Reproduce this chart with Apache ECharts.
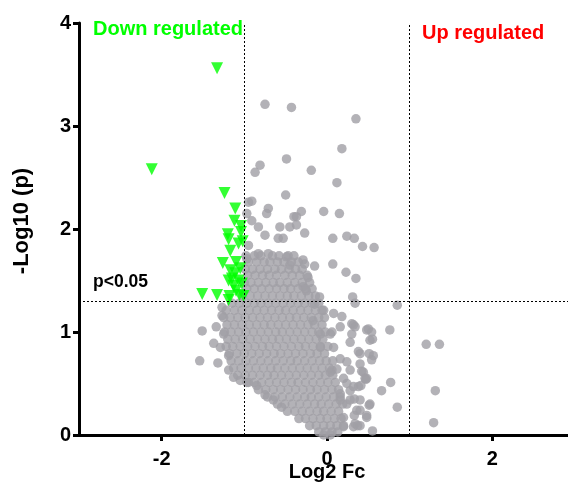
<!DOCTYPE html>
<html>
<head>
<meta charset="utf-8">
<script src="https://cdn.jsdelivr.net/npm/echarts@6/dist/echarts.min.js"></script>
<style>
  html, body { margin: 0; padding: 0; background: #fff; }
  #chart { width: 568px; height: 484px; }
</style>
</head>
<body>
<div id="chart"></div>
<script>
// tick labels
const xTicks = [-2, 0, 2]
const yTicks = [0, 1, 2, 3, 4]

// thresholds
const fcCut = [-1, 1]
const pCut = 1.301

// significant, down regulated (log2 fc, -log10 p)
const downPoints = [
  [-1.33, 3.56], [-2.12, 2.58], [-1.24, 2.35], [-1.11, 2.20], [-1.12, 2.08],
  [-1.04, 2.03], [-1.20, 1.95], [-1.04, 1.97], [-1.19, 1.90], [-1.07, 1.86],
  [-1.02, 1.88], [-1.17, 1.79], [-1.26, 1.67], [-1.10, 1.68], [-1.17, 1.60],
  [-1.05, 1.62], [-1.11, 1.57], [-1.15, 1.52], [-1.07, 1.50], [-1.19, 1.50],
  [-1.13, 1.45], [-1.03, 1.47], [-1.10, 1.40], [-1.51, 1.37], [-1.33, 1.36],
  [-1.18, 1.35], [-1.06, 1.36], [-1.01, 1.35], [-1.19, 1.31]
]

// not significant, scattered ones
const graySparse = [
  [-0.75, 3.21], [-0.43, 3.18], [0.35, 3.07], [0.18, 2.78], [-0.49, 2.68],
  [-0.81, 2.62], [-0.87, 2.55], [-0.19, 2.57], [0.12, 2.45], [-0.50, 2.33],
  [-0.91, 2.27], [-0.71, 2.20], [-0.31, 2.17], [-0.04, 2.17], [-0.40, 2.12],
  [0.15, 2.15], [-0.37, 2.04], [-0.27, 1.96], [0.07, 1.91], [0.24, 1.93],
  [0.33, 1.91], [0.43, 1.83], [0.57, 1.82], [-0.29, 1.70], [-0.27, 1.66],
  [-0.15, 1.64], [0.07, 1.66], [0.23, 1.58], [0.35, 1.52], [-0.23, 1.53],
  [-0.29, 1.44], [-0.25, 1.40], [-0.09, 1.34], [0.31, 1.34], [0.34, 1.28],
  [0.85, 1.26], [-0.15, 1.27],
  [0.76, 1.02], [1.20, 0.88], [1.36, 0.88], [0.52, 0.92], [0.56, 0.77],
  [0.54, 0.73], [0.77, 0.51], [0.66, 0.43], [1.31, 0.43], [0.85, 0.27],
  [1.29, 0.12], [0.55, 0.04],
  [0.42, 0.62], [0.46, 0.55], [0.38, 0.47], [0.52, 0.30], [0.32, 0.08],
  [0.40, 0.09], [0.30, 0.98], [0.32, 1.07], [0.06, 1.00], [0.16, 1.05],
  [0.08, 0.85], [0.28, 0.90], [0.38, 0.81], [0.16, 0.74], [0.24, 0.71],
  [0.06, 0.63], [0.20, 0.55], [0.28, 0.43], [0.16, 0.34], [0.40, 0.24],
  [0.08, 1.18], [0.18, 1.15], [-0.04, 1.21], [-0.08, 0.98], [-0.08, 0.85],
  [0.48, 1.02], [0.54, 1.00], [0.55, 0.93], [0.51, 0.79], [0.47, 0.54],
  [0.41, 0.48], [0.33, 0.35], [0.51, 0.29], [0.33, 0.19], [0.37, 0.09],
  [0.30, 1.08], [0.40, 0.69], [0.28, 0.63], [0.32, 0.47], [0.24, 0.30],
  [0.34, 0.11], [0.48, 0.19], [0.34, 1.05], [0.50, 1.03], [-0.17, 1.11],
  [0.04, 0.98], [0.40, 0.79], [0.12, 0.64], [0.04, 0.61], [0.44, 0.61],
  [0.48, 0.55], [0.24, 0.50], [0.16, 0.40], [0.28, 0.34], [0.40, 0.34],
  [0.36, 0.24], [0.48, 0.17], [0.20, 0.17], [0.20, 0.08],
  [-1.51, 1.01], [-1.34, 1.05], [-1.37, 0.89], [-1.54, 0.72], [-1.32, 0.70],
  [-1.29, 0.85], [-1.25, 0.98], [-1.27, 1.16], [-1.27, 1.24], [-1.19, 0.77],
  [-1.19, 0.63], [-1.13, 0.56], [-1.05, 0.53], [-0.95, 0.51], [-0.85, 0.48],
  [-0.75, 0.39], [-0.65, 0.34], [-0.55, 0.27],
  [-0.95, 2.26], [-0.97, 2.15], [-0.91, 2.08], [-0.73, 2.15], [-0.83, 2.02],
  [-0.75, 1.94], [-0.57, 2.02], [-0.45, 2.02], [-0.59, 1.91], [-0.53, 1.91],
  [-0.37, 2.12], [-0.95, 1.84], [-0.97, 1.71], [-0.83, 1.76], [-0.71, 1.76],
  [-0.49, 1.73], [-0.45, 1.65]
]

// not significant, the dense cloud: [-log10 p, [log2 fc ...]]
const grayDense = [
  [1.74, [-0.98, -0.88, -0.80, -0.66, -0.58, -0.47, -0.40]],
  [1.68, [-0.95, -0.85, -0.76, -0.69, -0.60, -0.52, -0.43, -0.35]],
  [1.61, [-0.99, -0.90, -0.81, -0.72, -0.63, -0.55, -0.46, -0.38, -0.30]],
  [1.55, [-0.96, -0.87, -0.78, -0.70, -0.61, -0.51, -0.42, -0.33, -0.24]],
  [1.48, [-1.00, -0.92, -0.83, -0.74, -0.65, -0.57, -0.48, -0.39, -0.30, -0.21]],
  [1.42, [-0.97, -0.88, -0.79, -0.70, -0.61, -0.52, -0.44, -0.35, -0.26, -0.18]],
  [1.35, [-1.02, -0.93, -0.84, -0.75, -0.66, -0.57, -0.48, -0.40, -0.31, -0.22, -0.14]],
  [1.28, [-1.15, -1.06, -0.97, -0.88, -0.80, -0.71, -0.62, -0.53, -0.44, -0.35, -0.27, -0.18, -0.10]],
  [1.21, [-1.22, -1.12, -1.03, -0.94, -0.85, -0.76, -0.67, -0.58, -0.50, -0.41, -0.32, -0.23, -0.14, -0.06]],
  [1.14, [-1.25, -1.17, -1.08, -0.99, -0.90, -0.81, -0.72, -0.63, -0.54, -0.45, -0.37, -0.28, -0.19, -0.10, -0.03]],
  [1.07, [-1.21, -1.12, -1.03, -0.94, -0.85, -0.76, -0.68, -0.59, -0.50, -0.41, -0.32, -0.23, -0.15, -0.06]],
  [1.00, [-1.24, -1.16, -1.07, -0.98, -0.89, -0.80, -0.71, -0.62, -0.54, -0.45, -0.36, -0.27, -0.18, -0.10, -0.02]],
  [0.93, [-1.20, -1.11, -1.02, -0.93, -0.84, -0.75, -0.66, -0.58, -0.49, -0.40, -0.31, -0.22, -0.13, -0.05]],
  [0.86, [-1.22, -1.14, -1.05, -0.96, -0.87, -0.78, -0.70, -0.61, -0.52, -0.43, -0.34, -0.26, -0.17, -0.08, 0.01]],
  [0.79, [-1.18, -1.09, -1.00, -0.91, -0.82, -0.73, -0.64, -0.56, -0.47, -0.38, -0.29, -0.20, -0.12, -0.03]],
  [0.72, [-1.16, -1.07, -0.98, -0.89, -0.80, -0.71, -0.62, -0.53, -0.44, -0.36, -0.27, -0.18, -0.09, -0.01, 0.07]],
  [0.65, [-1.13, -1.04, -0.95, -0.86, -0.77, -0.68, -0.60, -0.51, -0.42, -0.33, -0.24, -0.15, -0.06, 0.03]],
  [0.58, [-1.08, -0.99, -0.90, -0.81, -0.72, -0.64, -0.55, -0.46, -0.37, -0.28, -0.19, -0.10, -0.02, 0.07]],
  [0.51, [-0.97, -0.88, -0.79, -0.70, -0.61, -0.52, -0.43, -0.35, -0.26, -0.17, -0.08, 0.01, 0.10]],
  [0.44, [-0.83, -0.74, -0.65, -0.56, -0.47, -0.38, -0.29, -0.20, -0.12, -0.03, 0.06, 0.14]],
  [0.37, [-0.72, -0.63, -0.54, -0.45, -0.36, -0.27, -0.19, -0.10, -0.01, 0.08, 0.16]],
  [0.30, [-0.60, -0.51, -0.42, -0.33, -0.24, -0.15, -0.07, 0.02, 0.11, 0.19]],
  [0.23, [-0.48, -0.39, -0.30, -0.21, -0.12, -0.04, 0.05, 0.14]],
  [0.16, [-0.34, -0.26, -0.17, -0.08, 0.00, 0.09, 0.17]],
  [0.09, [-0.21, -0.13, -0.04, 0.04, 0.12, 0.20]],
  [0.03, [-0.10, -0.02, 0.06, 0.13]],
  [0.00, [-0.04, 0.04]]
]

const grayPoints = graySparse.concat(
  grayDense.flatMap(([y, xs]) => xs.map(x => [x, y]))
)

const font = 'Liberation Sans, Arial, Helvetica, sans-serif'
const chart = echarts.init(document.getElementById('chart'))

chart.setOption({
  animation: false,
  backgroundColor: '#fff',
  grid: { left: 79, right: -7, top: 23, bottom: 49, outerBoundsMode: 'none' },
  xAxis: {
    type: 'value',
    min: -3,
    max: 3,
    name: 'Log2 Fc',
    nameLocation: 'middle',
    nameGap: 27,
    nameMoveOverlap: false,
    nameTextStyle: { fontFamily: font, fontWeight: 'bold', fontSize: 20, color: '#000' },
    axisLine: { onZero: false, lineStyle: { color: '#000', width: 3 } },
    axisTick: { length: 6, lineStyle: { color: '#000', width: 3 }, customValues: xTicks },
    axisLabel: { margin: 14, fontFamily: font, fontWeight: 'bold', fontSize: 20, color: '#000', customValues: xTicks },
    splitLine: { show: false }
  },
  yAxis: {
    type: 'value',
    min: 0,
    max: 4,
    interval: 1,
    name: '-Log10 (p)',
    nameLocation: 'middle',
    nameRotate: 90,
    nameGap: 46,
    nameMoveOverlap: false,
    nameTextStyle: { fontFamily: font, fontWeight: 'bold', fontSize: 22, color: '#000', padding: [0, 0, 0, 16] },
    axisLine: { onZero: false, lineStyle: { color: '#000', width: 3 } },
    axisTick: { length: 6, lineStyle: { color: '#000', width: 3 }, customValues: yTicks },
    axisLabel: { margin: 8, fontFamily: font, fontWeight: 'bold', fontSize: 20, color: '#000', customValues: yTicks },
    splitLine: { show: false }
  },
  graphic: [
    { type: 'text', left: 93, top: 19, style: { text: 'Down regulated', fill: '#00ff00', font: 'bold 20px ' + font } },
    { type: 'text', left: 422, top: 23, style: { text: 'Up regulated', fill: '#ff0000', font: 'bold 20px ' + font } },
    { type: 'text', left: 93, top: 273, style: { text: 'p<0.05', fill: '#000', font: 'bold 17.5px ' + font } }
  ],
  series: [
    {
      type: 'line',
      data: [],
      z: 1,
      silent: true,
      markLine: {
        symbol: 'none',
        silent: true,
        label: { show: false },
        lineStyle: { color: '#000', width: 1, type: [2, 2] },
        data: [{ xAxis: fcCut[0] }, { xAxis: fcCut[1] }, { yAxis: pCut }]
      }
    },
    {
      name: 'ns',
      type: 'scatter',
      z: 2,
      symbol: 'circle',
      symbolSize: 9.5,
      itemStyle: { color: '#a09fa5' },
      data: grayPoints
    },
    {
      name: 'down',
      type: 'scatter',
      z: 3,
      symbol: 'triangle',
      symbolRotate: 180,
      symbolSize: 12,
      itemStyle: { color: '#00ff00' },
      data: downPoints
    }
  ]
})
</script>
</body>
</html>
